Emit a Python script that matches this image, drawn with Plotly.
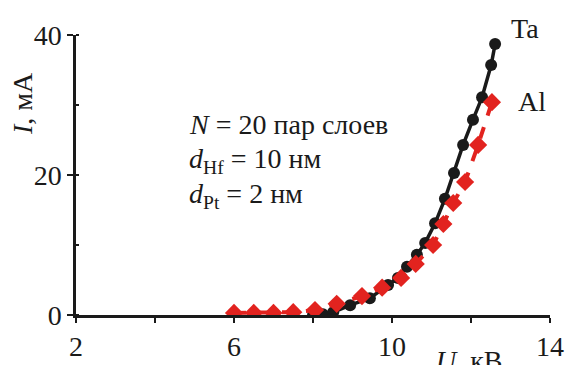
import plotly.graph_objects as go

# Data
ta_u = [8.0, 8.25, 8.51, 8.94, 9.44, 9.90, 10.15, 10.38, 10.63, 10.84, 11.09, 11.34, 11.57, 11.80, 12.05, 12.28, 12.51, 12.61]
ta_i = [0.0, 0.1, 0.4, 1.4, 2.4, 4.3, 5.3, 6.9, 8.6, 10.3, 13.1, 16.6, 20.3, 24.3, 27.9, 31.1, 35.7, 38.7]
al_u = [6.0, 6.5, 7.0, 7.5, 8.05, 8.6, 9.24, 9.75, 10.23, 10.6, 11.04, 11.3, 11.55, 11.85, 12.18, 12.53]
al_i = [0.3, 0.3, 0.3, 0.4, 0.7, 1.6, 2.7, 3.9, 5.3, 7.3, 10.0, 13.0, 16.0, 19.0, 24.3, 30.4]

x_tickvals = [2, 4, 6, 8, 10, 12, 14]
x_ticktext = ["2", "", "6", "", "10", "", "14"]
y_tickvals = [0, 20, 40]

RED = "#e2231f"
BLACK = "#1a1a1a"
FONT = "Liberation Serif, Times New Roman, serif"

fig = go.Figure()
fig.add_trace(go.Scatter(x=ta_u, y=ta_i, mode="lines+markers",
                         line=dict(color=BLACK, width=3.5),
                         marker=dict(symbol="circle", size=12, color=BLACK),
                         showlegend=False))
fig.add_trace(go.Scatter(x=al_u, y=al_i, mode="lines+markers",
                         line=dict(color=RED, width=4, dash="dash"),
                         marker=dict(symbol="diamond", size=14, color=RED),
                         showlegend=False))

W, H = 567, 365
L, R, T, B = 76, 17, 35, 50
pw, ph = W - L - R, H - T - B

def px(x):
    return (x - L) / pw

def py(y):
    return (H - B - y) / ph

fs = 28
ann = [
    dict(x=px(509), y=py(28), text="Ta", xanchor="left", yanchor="middle"),
    dict(x=px(516), y=py(101), text="Al", xanchor="left", yanchor="middle"),
    dict(x=px(187), y=py(125), text="<i>N</i> = 20 пар слоев", xanchor="left", yanchor="middle"),
    dict(x=px(187), y=py(160), text="<i>d</i><sub>Hf</sub> = 10 нм", xanchor="left", yanchor="middle"),
    dict(x=px(187), y=py(195), text="<i>d</i><sub>Pt</sub> = 2 нм", xanchor="left", yanchor="middle"),
    dict(x=px(22), y=py(104), text="<i>I</i>, мА", textangle=-90, xanchor="center", yanchor="middle"),
    dict(x=px(434), y=py(343), text="<i>U</i>, кВ", xanchor="left", yanchor="top"),
]
for a in ann:
    a.update(xref="paper", yref="paper", showarrow=False,
             font=dict(family=FONT, size=fs, color=BLACK))

fig.update_layout(
    width=W, height=H,
    margin=dict(l=L, r=R, t=T, b=B, autoexpand=False),
    paper_bgcolor="white", plot_bgcolor="white",
    annotations=ann,
    font=dict(family=FONT, size=fs, color=BLACK),
)
fig.update_xaxes(range=[2, 14], tickvals=x_tickvals, ticktext=x_ticktext, automargin=False,
                 showgrid=False, zeroline=False, showline=True, linecolor=BLACK, linewidth=2.5,
                 ticks="outside", ticklen=5, tickwidth=2, tickcolor=BLACK,
                 tickfont=dict(family=FONT, size=fs, color=BLACK))
fig.update_yaxes(range=[0, 40], tickvals=y_tickvals, automargin=False,
                 showgrid=False, zeroline=False, showline=True, linecolor=BLACK, linewidth=2.5,
                 ticks="outside", ticklen=6, tickwidth=2, tickcolor=BLACK,
                 minor=dict(dtick=10, tick0=0, ticks="inside", ticklen=3, tickwidth=2, tickcolor=BLACK),
                 tickfont=dict(family=FONT, size=fs, color=BLACK))

fig.write_html("out.html")
